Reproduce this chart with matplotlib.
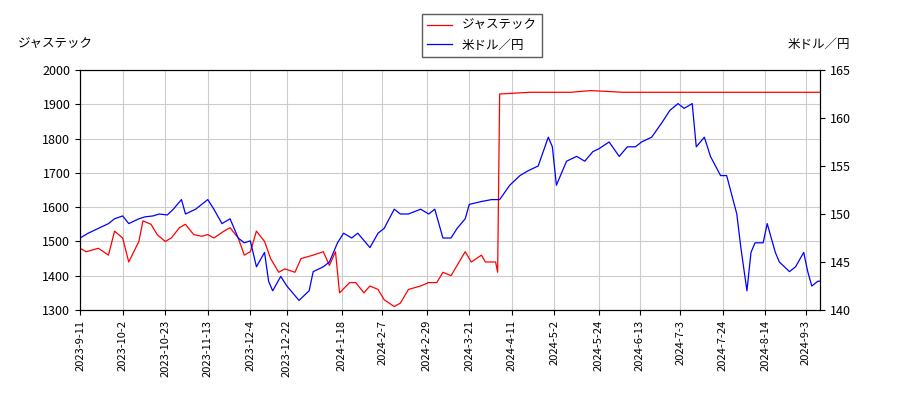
import matplotlib
matplotlib.use("Agg")
import matplotlib.pyplot as plt
import matplotlib.dates as mdates
import pandas as pd

plt.rcParams['font.family'] = ['Noto Sans CJK JP', 'DejaVu Sans']

stock_dates = ["2023-09-11", "2023-09-14", "2023-09-20", "2023-09-25", "2023-09-28", "2023-10-02",
               "2023-10-05", "2023-10-10", "2023-10-12", "2023-10-16", "2023-10-19", "2023-10-23",
               "2023-10-26", "2023-10-30", "2023-11-02", "2023-11-06", "2023-11-10", "2023-11-13",
               "2023-11-16", "2023-11-21", "2023-11-24", "2023-11-28", "2023-12-01", "2023-12-04",
               "2023-12-07", "2023-12-11", "2023-12-14", "2023-12-18", "2023-12-21", "2023-12-26",
               "2023-12-29", "2024-01-04", "2024-01-09", "2024-01-12", "2024-01-15", "2024-01-17",
               "2024-01-22", "2024-01-25", "2024-01-29", "2024-02-01", "2024-02-05", "2024-02-08",
               "2024-02-13", "2024-02-16", "2024-02-20", "2024-02-26", "2024-03-01", "2024-03-05",
               "2024-03-08", "2024-03-12", "2024-03-15", "2024-03-19", "2024-03-22", "2024-03-27",
               "2024-03-29", "2024-04-03", "2024-04-04", "2024-04-05", "2024-04-20", "2024-05-10",
               "2024-05-20", "2024-06-05", "2024-06-25", "2024-07-15", "2024-08-05", "2024-08-25",
               "2024-09-10"]
stock = [1480, 1470, 1480, 1460, 1530, 1510, 1440, 1500, 1560, 1550, 1520, 1500,
         1510, 1540, 1550, 1520, 1515, 1520, 1510, 1530, 1540, 1510, 1460, 1470,
         1530, 1500, 1450, 1410, 1420, 1410, 1450, 1460, 1470, 1430, 1470, 1350,
         1380, 1380, 1350, 1370, 1360, 1330, 1310, 1320, 1360, 1370, 1380, 1380,
         1410, 1400, 1430, 1470, 1440, 1460, 1440, 1440, 1410, 1930, 1935, 1935,
         1940, 1935, 1935, 1935, 1935, 1935, 1935]

fx_dates = ["2023-09-11", "2023-09-15", "2023-09-20", "2023-09-25", "2023-09-28", "2023-10-02",
            "2023-10-05", "2023-10-10", "2023-10-13", "2023-10-17", "2023-10-20", "2023-10-24",
            "2023-10-27", "2023-10-31", "2023-11-02", "2023-11-07", "2023-11-10", "2023-11-13",
            "2023-11-16", "2023-11-20", "2023-11-24", "2023-11-28", "2023-12-01", "2023-12-04",
            "2023-12-07", "2023-12-11", "2023-12-13", "2023-12-15", "2023-12-19", "2023-12-22",
            "2023-12-28", "2024-01-02", "2024-01-04", "2024-01-09", "2024-01-12", "2024-01-16",
            "2024-01-19", "2024-01-23", "2024-01-26", "2024-02-01", "2024-02-05", "2024-02-08",
            "2024-02-13", "2024-02-16", "2024-02-20", "2024-02-26", "2024-03-01", "2024-03-04",
            "2024-03-08", "2024-03-12", "2024-03-15", "2024-03-19", "2024-03-21", "2024-03-27",
            "2024-04-01", "2024-04-05", "2024-04-10", "2024-04-15", "2024-04-19", "2024-04-24",
            "2024-04-29", "2024-05-01", "2024-05-03", "2024-05-08", "2024-05-13", "2024-05-17",
            "2024-05-21", "2024-05-24", "2024-05-29", "2024-06-03", "2024-06-07", "2024-06-11",
            "2024-06-14", "2024-06-19", "2024-06-24", "2024-06-28", "2024-07-02", "2024-07-05",
            "2024-07-09", "2024-07-11", "2024-07-15", "2024-07-18", "2024-07-23", "2024-07-26",
            "2024-07-31", "2024-08-02", "2024-08-05", "2024-08-07", "2024-08-09", "2024-08-13",
            "2024-08-15", "2024-08-19", "2024-08-21", "2024-08-26", "2024-08-29", "2024-09-02",
            "2024-09-04", "2024-09-06", "2024-09-09", "2024-09-10"]
fx = [147.5, 148, 148.5, 149, 149.5, 149.8, 149, 149.5, 149.7, 149.8, 150, 149.9,
      150.5, 151.5, 150, 150.5, 151, 151.5, 150.5, 149, 149.5, 147.5, 147, 147.2,
      144.5, 146, 143, 142, 143.5, 142.5, 141, 142, 144, 144.5, 145, 147,
      148, 147.5, 148, 146.5, 148, 148.5, 150.5, 150, 150, 150.5, 150, 150.5,
      147.5, 147.5, 148.5, 149.5, 151, 151.3, 151.5, 151.5, 153, 154, 154.5, 155,
      158, 157, 153, 155.5, 156, 155.5, 156.5, 156.8, 157.5, 156, 157, 157,
      157.5, 158, 159.5, 160.8, 161.5, 161, 161.5, 157, 158, 156, 154, 154,
      150, 146.5, 142, 146, 147, 147, 149, 146, 145, 144, 144.5, 146,
      144, 142.5, 143, 143]

tick_labels = ["2023-9-11", "2023-10-2", "2023-10-23", "2023-11-13", "2023-12-4", "2023-12-22",
               "2024-1-18", "2024-2-7", "2024-2-29", "2024-3-21", "2024-4-11", "2024-5-2",
               "2024-5-24", "2024-6-13", "2024-7-3", "2024-7-24", "2024-8-14", "2024-9-3"]

fig = plt.figure(figsize=(9, 4), dpi=100)
ax = fig.add_axes([0.089, 0.225, 0.822, 0.6])
ax2 = ax.twinx()

l1, = ax.plot(pd.to_datetime(stock_dates), stock, color="red", lw=0.9, label="ジャステック")
l2, = ax2.plot(pd.to_datetime(fx_dates), fx, color="blue", lw=0.9, label="米ドル／円")

ax.set_ylim(1300, 2000)
ax2.set_ylim(140, 165)
ax.set_xlim(pd.Timestamp("2023-09-11"), pd.Timestamp("2024-09-10"))
ticks = pd.to_datetime(tick_labels)
ax.set_xticks(ticks)
ax.set_xticklabels(tick_labels, rotation=90, fontsize=8)
ax.tick_params(axis="y", labelsize=9)
ax2.tick_params(axis="y", labelsize=9)
ax.grid(True, color="#cccccc", lw=0.8)
ax.set_axisbelow(True)

fig.text(0.02, 0.88, "ジャステック", fontsize=9)
fig.text(0.945, 0.88, "米ドル／円", fontsize=9, ha="right")
fig.legend(handles=[l1, l2], loc="upper center", bbox_to_anchor=(0.535, 0.98),
           fontsize=9, fancybox=False, edgecolor="#333333")

fig.savefig("out.png")
